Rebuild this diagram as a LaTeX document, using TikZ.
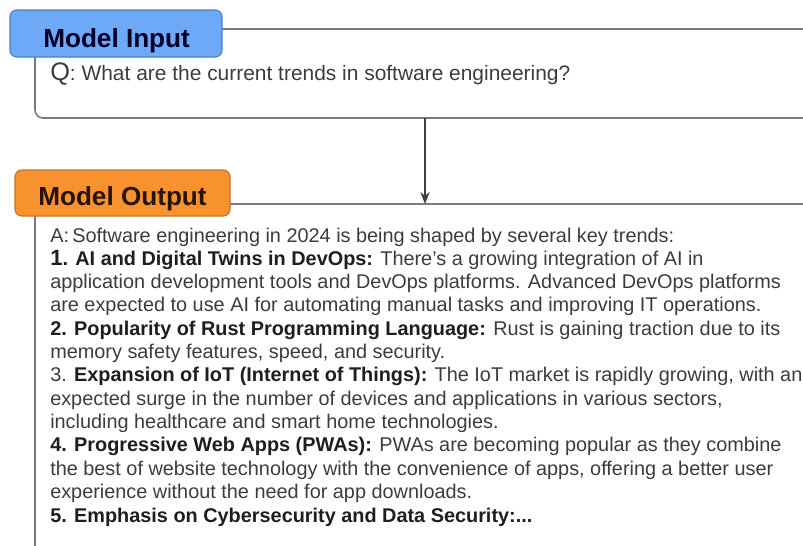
\documentclass[tikz,border=0pt]{standalone}
\usepackage{fontspec}
\setmainfont{Liberation Sans}
\usetikzlibrary{arrows.meta}
\definecolor{framegray}{HTML}{7A7A7A}
\definecolor{bodytext}{HTML}{3C3C3C}
\definecolor{headtext}{HTML}{1E1E1E}
\definecolor{inputfill}{HTML}{6DA9F6}
\definecolor{inputedge}{HTML}{4A7FC6}
\definecolor{outputfill}{HTML}{F7922F}
\definecolor{outputedge}{HTML}{C87424}
\tikzset{
  frameline/.style={draw=framegray, line width=1.2pt},
  tabbox/.style={rounded corners=5pt, line width=0.8pt},
  tabtitle/.style={font=\fontsize{19.6}{21}\selectfont\bfseries, anchor=base west, inner sep=0pt},
  bodyline/.style={font=\fontsize{14.9}{17}\selectfont, text=bodytext, anchor=base west, inner sep=0pt},
  flowarrow/.style={draw=black!75, line width=0.9pt, -{Stealth[length=9pt,width=7pt]}},
}
\newcommand{\hd}[1]{\textcolor{headtext}{\bfseries #1}}
\begin{document}
\begin{tikzpicture}[x=0.75pt, y=-0.75pt]
\useasboundingbox (0,0) rectangle (803,546);

% input frame
\draw[frameline] (222,29) -- (803,29);
\draw[frameline, rounded corners=6pt] (35,57) -- (35,118) -- (803,118);
\fill[inputfill, draw=inputedge, tabbox] (10,10) rectangle (222,57);
\node[tabtitle, text=black!85!blue] (intitle) at (43,47) {Model Input};
\node[bodyline, font=\fontsize{15.7}{17}\selectfont] (q) at (50,80) {{\fontsize{19}{20}\selectfont Q}: What are the current trends in software engineering?};

% output frame
\draw[frameline] (230,204) -- (803,204);
\draw[frameline] (35,216) -- (35,546);
\fill[outputfill, draw=outputedge, tabbox] (15,170) rectangle (230,216);
\node[tabtitle, text=black!85!orange] (outtitle) at (38,205) {Model Output};

% arrow between the two frames
\coordinate (inbottom) at (425,118);
\coordinate (outtop) at (425,204);
\draw[flowarrow] (inbottom) -- (outtop);

% answer text
\node[bodyline] (l1) at (50,242) {A:\,Software engineering in 2024 is being shaped by several key trends:};
\node[bodyline] (l2) at (50,265) {\hd{{\fontsize{16.5}{17}\selectfont 1}. AI and Digital Twins in DevOps:} There{\char"27}s a growing integration of AI in};
\node[bodyline] (l3) at (50,288) {application development tools and DevOps platforms. Advanced DevOps platforms};
\node[bodyline] (l4) at (50,311) {are expected to use AI for automating manual tasks and improving IT operations.};
\node[bodyline] (l5) at (50,335) {\hd{2. Popularity of Rust Programming Language:} Rust is gaining traction due to its};
\node[bodyline] (l6) at (50,358) {memory safety features, speed, and security.};
\node[bodyline] (l7) at (50,381) {3. \hd{Expansion of IoT (Internet of Things):} The IoT market is rapidly growing, with an};
\node[bodyline] (l8) at (50,405) {expected surge in the number of devices and applications in various sectors,};
\node[bodyline] (l9) at (50,428) {including healthcare and smart home technologies.};
\node[bodyline] (l10) at (50,451) {\hd{4. Progressive Web Apps (PWAs):} PWAs are becoming popular as they combine};
\node[bodyline] (l11) at (50,475) {the best of website technology with the convenience of apps, offering a better user};
\node[bodyline] (l12) at (50,498) {experience without the need for app downloads.};
\node[bodyline] (l13) at (50,522) {\hd{5. Emphasis on Cybersecurity and Data Security:...}};
\end{tikzpicture}
\end{document}
